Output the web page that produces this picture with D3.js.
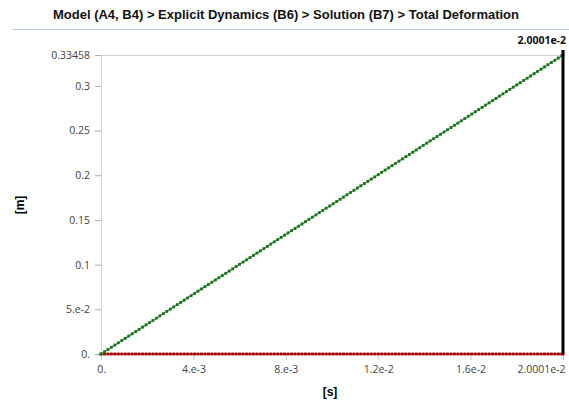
<!DOCTYPE html>
<html>
<head>
<script src="https://cdn.jsdelivr.net/npm/d3@7"></script>
<style>
	body { margin: 0; background: #fff; }
	svg { display: block; }
	.tick text { font-family: "Open Sans", sans-serif; font-size: 10.5px; fill: #444; }
</style>
</head>
<body>
<div id="container"></div>
<script>
	const width = 569, height = 401;
	const margin = {top: 55, right: 6, bottom: 47, left: 101};

	// time steps [s]
	const time = [0, 0.00015, 0.0003, 0.00045, 0.0006, 0.00075, 0.0009, 0.00105, 0.0012, 0.00135,
		0.0015, 0.00165, 0.0018, 0.00195, 0.0021, 0.00225, 0.0024, 0.00255, 0.0027, 0.00285,
		0.003, 0.00315, 0.0033, 0.00345, 0.0036, 0.00375, 0.0039, 0.00405, 0.0042, 0.00435,
		0.0045, 0.00465, 0.0048, 0.00495, 0.0051, 0.00525, 0.0054, 0.00555, 0.0057, 0.00585,
		0.006, 0.00615, 0.0063, 0.00645, 0.0066, 0.00675, 0.0069, 0.00705, 0.0072, 0.00735,
		0.0075, 0.00765, 0.0078, 0.00795, 0.0081, 0.00825, 0.0084, 0.00855, 0.0087, 0.00885,
		0.009, 0.00915, 0.0093, 0.00945, 0.0096, 0.00975, 0.0099, 0.01005, 0.0102, 0.01035,
		0.0105, 0.01065, 0.0108, 0.01095, 0.0111, 0.01125, 0.0114, 0.01155, 0.0117, 0.01185,
		0.012, 0.01215, 0.0123, 0.01245, 0.0126, 0.01275, 0.0129, 0.01305, 0.0132, 0.01335,
		0.0135, 0.01365, 0.0138, 0.01395, 0.0141, 0.01425, 0.0144, 0.01455, 0.0147, 0.01485,
		0.015, 0.01515, 0.0153, 0.01545, 0.0156, 0.01575, 0.0159, 0.01605, 0.0162, 0.01635,
		0.0165, 0.01665, 0.0168, 0.01695, 0.0171, 0.01725, 0.0174, 0.01755, 0.0177, 0.01785,
		0.018, 0.01815, 0.0183, 0.01845, 0.0186, 0.01875, 0.0189, 0.01905, 0.0192, 0.01935,
		0.0195, 0.01965, 0.0198, 0.01995, 0.020001];

	// total deformation, maximum [m]
	const maxDef = [0, 0.0025, 0.0050, 0.0075, 0.0100, 0.0125, 0.0151, 0.0176, 0.0201, 0.0226,
		0.0251, 0.0276, 0.0301, 0.0326, 0.0351, 0.0376, 0.0401, 0.0427, 0.0452, 0.0477,
		0.0502, 0.0527, 0.0552, 0.0577, 0.0602, 0.0627, 0.0652, 0.0677, 0.0703, 0.0728,
		0.0753, 0.0778, 0.0803, 0.0828, 0.0853, 0.0878, 0.0903, 0.0928, 0.0953, 0.0979,
		0.1004, 0.1029, 0.1054, 0.1079, 0.1104, 0.1129, 0.1154, 0.1179, 0.1204, 0.1230,
		0.1255, 0.1280, 0.1305, 0.1330, 0.1355, 0.1380, 0.1405, 0.1430, 0.1455, 0.1480,
		0.1506, 0.1531, 0.1556, 0.1581, 0.1606, 0.1631, 0.1656, 0.1681, 0.1706, 0.1731,
		0.1756, 0.1782, 0.1807, 0.1832, 0.1857, 0.1882, 0.1907, 0.1932, 0.1957, 0.1982,
		0.2007, 0.2033, 0.2058, 0.2083, 0.2108, 0.2133, 0.2158, 0.2183, 0.2208, 0.2233,
		0.2258, 0.2283, 0.2308, 0.2334, 0.2359, 0.2384, 0.2409, 0.2434, 0.2459, 0.2484,
		0.2509, 0.2534, 0.2559, 0.2584, 0.2610, 0.2635, 0.2660, 0.2685, 0.2710, 0.2735,
		0.2760, 0.2785, 0.2810, 0.2835, 0.2860, 0.2886, 0.2911, 0.2936, 0.2961, 0.2986,
		0.3011, 0.3036, 0.3061, 0.3086, 0.3111, 0.3137, 0.3162, 0.3187, 0.3212, 0.3237,
		0.3262, 0.3287, 0.3312, 0.3337, 0.33458];

	// total deformation, minimum [m]
	const minDef = [0, 0, 0, 0, 0, 0, 0, 0, 0, 0, 0, 0, 0, 0, 0, 0, 0, 0, 0, 0,
		0, 0, 0, 0, 0, 0, 0, 0, 0, 0, 0, 0, 0, 0, 0, 0, 0, 0, 0, 0,
		0, 0, 0, 0, 0, 0, 0, 0, 0, 0, 0, 0, 0, 0, 0, 0, 0, 0, 0, 0,
		0, 0, 0, 0, 0, 0, 0, 0, 0, 0, 0, 0, 0, 0, 0, 0, 0, 0, 0, 0,
		0, 0, 0, 0, 0, 0, 0, 0, 0, 0, 0, 0, 0, 0, 0, 0, 0, 0, 0, 0,
		0, 0, 0, 0, 0, 0, 0, 0, 0, 0, 0, 0, 0, 0, 0, 0, 0, 0, 0, 0,
		0, 0, 0, 0, 0, 0, 0, 0, 0, 0, 0, 0, 0, 0, 0];

	const xTicks = [0, 0.004, 0.008, 0.012, 0.016, 0.020001];
	const xTickLabels = ["0.", "4.e-3", "8.e-3", "1.2e-2", "1.6e-2", "2.0001e-2"];
	const yTicks = [0, 0.05, 0.1, 0.15, 0.2, 0.25, 0.3, 0.33458];
	const yTickLabels = ["0.", "5.e-2", "0.1", "0.15", "0.2", "0.25", "0.3", "0.33458"];
	const cursorTime = 0.020001;

	const title = "Model (A4, B4) > Explicit Dynamics (B6) > Solution (B7) > Total Deformation";

	const svg = d3.select("#container").append("svg").attr("width", width).attr("height", height);

	const x = d3.scaleLinear().domain([0, 0.020001]).range([margin.left, width - margin.right]);
	const y = d3.scaleLinear().domain([0, 0.33458]).range([height - margin.bottom, margin.top]);

	// title + header rule
	svg.append("text").attr("x", 286).attr("y", 19).attr("text-anchor", "middle")
		.attr("font-family", "Liberation Sans, Arial, sans-serif").attr("font-weight", "bold")
		.attr("font-size", 13).attr("fill", "#111").text(title);
	svg.append("line").attr("x1", 12).attr("x2", width).attr("y1", 29.5).attr("y2", 29.5)
		.attr("stroke", "#b6cfe2").attr("stroke-width", 1);

	// top gridline
	svg.append("line").attr("x1", x(0)).attr("x2", x(0.020001)).attr("y1", y(0.33458) + 0.5).attr("y2", y(0.33458) + 0.5)
		.attr("stroke", "#d0d0d0");

	/* axes */
	const yAxis = d3.axisLeft(y).tickValues(yTicks).tickSize(6).tickPadding(5)
		.tickFormat((d, i) => yTickLabels[i]);
	const gy = svg.append("g").attr("transform", `translate(${x(0)},0)`).call(yAxis);
	gy.select(".domain").attr("stroke", "#d8d8d8");
	gy.selectAll(".tick line").attr("stroke", "#aaa");

	const xAxis = d3.axisBottom(x).tickValues(xTicks).tickSize(6).tickPadding(6)
		.tickFormat((d, i) => xTickLabels[i]);
	const gx = svg.append("g").attr("transform", `translate(0,${y(0)})`).call(xAxis);
	gx.select(".domain").attr("stroke", "#d8d8d8");
	gx.selectAll(".tick line").attr("stroke", "#c8c8c8");
	// last label sits flush left of its tick
	gx.selectAll(".tick text").filter((d, i) => i === xTicks.length - 1)
		.attr("text-anchor", "end").attr("dx", 2);

	svg.append("text").attr("x", 330).attr("y", 396).attr("text-anchor", "middle")
		.attr("font-family", "Liberation Sans, Arial, sans-serif").attr("font-weight", "bold")
		.attr("font-size", 12).text("[s]");
	svg.append("text").attr("transform", "translate(24,205) rotate(-90)").attr("text-anchor", "middle")
		.attr("font-family", "Liberation Sans, Arial, sans-serif").attr("font-weight", "bold")
		.attr("font-size", 12).text("[m]");

	/* series */
	const series = [
		{values: minDef, line: "#e03030", dot: "#a00000"},
		{values: maxDef, line: "#4cc04c", dot: "#1d6e1d"}
	];
	const line = d3.line().x((d, i) => x(time[i])).y(d => y(d));

	series.forEach(function(s) {
		svg.append("path").datum(s.values).attr("d", line)
			.attr("fill", "none").attr("stroke", s.line).attr("stroke-width", 1.5);
		svg.append("g").selectAll("rect").data(s.values).enter().append("rect")
			.attr("x", (d, i) => x(time[i]) - 1.4).attr("y", d => y(d) - 1.4)
			.attr("width", 2.8).attr("height", 2.8).attr("fill", s.dot);
	});

	// time cursor
	svg.append("line").attr("x1", x(cursorTime)).attr("x2", x(cursorTime))
		.attr("y1", 50).attr("y2", y(0)).attr("stroke", "#000").attr("stroke-width", 3);
	svg.append("text").attr("x", 566).attr("y", 44).attr("text-anchor", "end")
		.attr("font-family", "Open Sans, sans-serif").attr("font-weight", "bold")
		.attr("font-size", 10.5).attr("fill", "#111").text("2.0001e-2");
</script>
</body>
</html>
